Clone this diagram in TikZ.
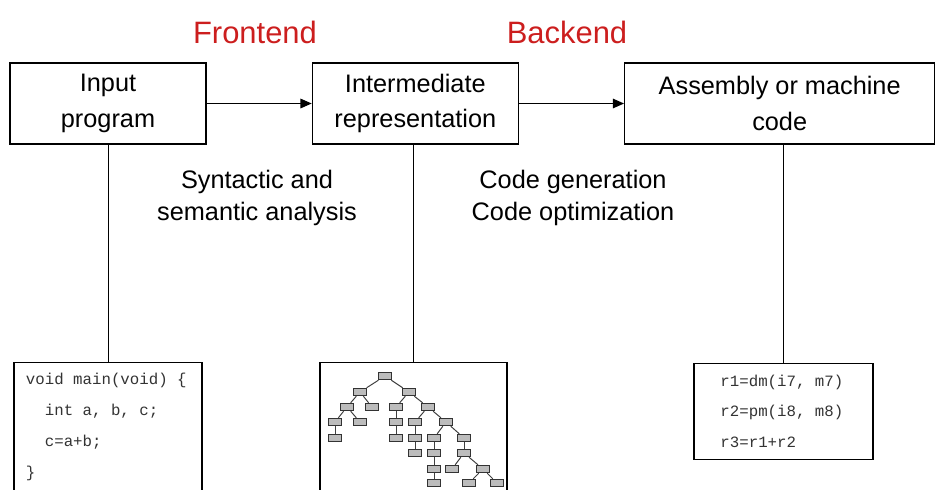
\documentclass[tikz,border=0pt]{standalone}
\usepackage{fontspec}
\setmainfont{Liberation Sans}
\setmonofont{Liberation Mono}
\usepackage{xcolor}
\usepackage{tikz}
\usetikzlibrary{positioning,arrows.meta}

\definecolor{stagered}{RGB}{204,30,30}
\definecolor{leafgray}{RGB}{188,188,188}

\begin{document}
\begin{tikzpicture}[
      x=0.025cm, y=-0.025cm,
      node distance=2.625cm,
      stage/.style={draw, line width=0.9pt, rectangle, minimum height=2.025cm,
                    align=center, font=\fontsize{18}{25.5}\selectfont},
      phasetitle/.style={text=stagered, font=\fontsize{22}{26}\selectfont},
      note/.style={align=center, font=\fontsize{18}{22.5}\selectfont},
      listing/.style={draw, line width=0.8pt, anchor=north, align=left, inner ysep=0pt,
                      text=black!80, font=\ttfamily\fontsize{11.2}{22}\selectfont,
                      execute at begin node={\spaceskip=0.6em\relax}},
      leaf/.style={draw=black!80, fill=leafgray, line width=0.6pt,
                   minimum width=0.34cm, minimum height=0.19cm, inner sep=0pt},
      arr/.style={-{Triangle[length=2.8mm,width=2.4mm]}, line width=0.8pt},
      link/.style={line width=0.7pt},
    ]
    \useasboundingbox (0,0) rectangle (935,489);

    \node[phasetitle] (fe) at (255,32) {Frontend};
    \node[phasetitle] (be) at (567,32) {Backend};

    \node[stage, minimum width=4.9cm] (ip) at (108,103.5) {Input\\program};
    \node[stage, minimum width=5.15cm, right=of ip] (ir) {Intermediate\\representation};
    \node[stage, minimum width=7.75cm, right=of ir] (as) {Assembly or machine\\code};
    \draw[arr] (ip) -- (ir);
    \draw[arr] (ir) -- (as);

    \node[note] (fa) at (257,198) {Syntactic and\\semantic analysis};
    \node[note] (ba) at (573,198) {Code generation\\Code optimization};

    % source listing, tree and target listing
    \node[listing, minimum width=4.7cm, text width=4.1cm, inner xsep=0.3cm,
          text height=0.55cm, text depth=3.0cm] (src) at (108,362)
      {void main(void) \{\\
       \phantom{xx}int a, b, c;\\
       \phantom{xx}c=a+b;\\
       \}};
    \node[draw, line width=0.8pt, anchor=north, minimum width=4.675cm,
          minimum height=3.6cm] (tree) at (413.5,362) {};
    \node[listing, minimum width=4.475cm, text width=3.15cm, inner xsep=0.6625cm,
          text height=0.575cm, text depth=1.825cm,
          font=\ttfamily\fontsize{11.2}{21.5}\selectfont] (tgt) at (783.5,363)
      {r1=dm(i7, m7)\\
       r2=pm(i8, m8)\\
       r3=r1+r2};

    \draw[link] (src.north) -- (src.north |- ip.south);
    \draw[link] (tree.north) -- (tree.north |- ir.south);
    \draw[link] (tgt.north) -- (tgt.north |- as.south);

    % syntax tree
    \foreach \n/\x/\y in {1/385/376, 2/360/392, 3/409/392, 4/347/407, 5/372/407,
        6/396/407, 7/428/407, 8/335/422, 9/360/422, 10/396/422, 11/415/422,
        12/446/422, 13/335/438, 14/396/438, 15/415/438, 16/434/438, 17/464/438,
        18/415/453, 19/434/453, 20/464/453, 21/434/469, 22/452/469, 23/483/469,
        24/434/483, 25/469/483, 26/497/483}
      \node[leaf] (t\n) at (\x,\y) {};
    \foreach \a/\b in {1/2, 1/3, 2/4, 2/5, 3/6, 3/7, 4/8, 4/9, 6/10, 7/11, 7/12,
        8/13, 10/14, 11/15, 12/16, 12/17, 15/18, 16/19, 17/20, 19/21, 20/22,
        20/23, 21/24, 23/25, 23/26}
      \draw[black!75, line width=0.7pt] (t\a) -- (t\b);
  \end{tikzpicture}
\end{document}
